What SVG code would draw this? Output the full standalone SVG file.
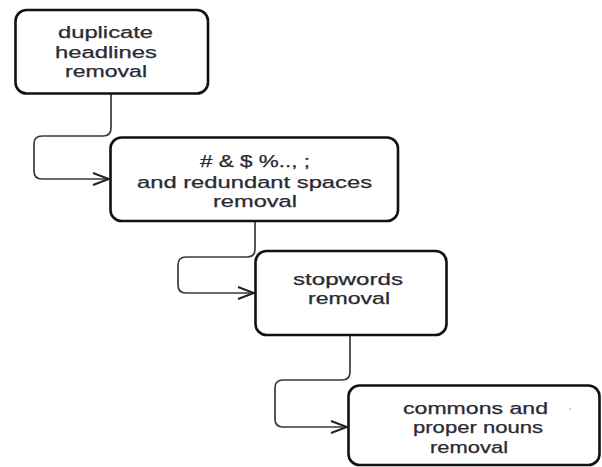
<svg xmlns="http://www.w3.org/2000/svg" width="602" height="467" viewBox="0 0 602 467">
<style>
.box{fill:#fff;stroke:#111;stroke-width:2.6}
.lbl{font-family:"Liberation Sans",Arial,sans-serif;font-size:16px;fill:#2a2a33;stroke:#2a2a33;stroke-width:0.25;text-anchor:middle}
.con{fill:none;stroke:#3a3a3a;stroke-width:1.7}
</style>
<defs>
<marker id="arr" markerUnits="userSpaceOnUse" markerWidth="20" markerHeight="16" viewBox="-18 -8 20 16" refX="0" refY="0" orient="auto">
<path d="M-16,-6 L0,0 L-16,6" fill="none" stroke="#222" stroke-width="2"/>
</marker>
</defs>
<rect width="602" height="467" fill="#fff"/>
<g id="connectors">
<path class="con" d="M111,94 V128 Q111,136 103,136 H42 Q34,136 34,144 V171 Q34,179 42,179 H109" marker-end="url(#arr)"/>
<path class="con" d="M255,222 V249 Q255,257 247,257 H186 Q178,257 178,265 V285 Q178,293 186,293 H254" marker-end="url(#arr)"/>
<path class="con" d="M350,336 V372 Q350,380 342,380 H283 Q275,380 275,388 V419 Q275,427 283,427 H347" marker-end="url(#arr)"/>
</g>
<g id="n1">
<rect class="box" x="15.5" y="10" width="192.5" height="83.5" rx="11"/>
<text class="lbl" x="105.5" y="38" textLength="95" lengthAdjust="spacingAndGlyphs">duplicate</text>
<text class="lbl" x="106" y="57.5" textLength="102" lengthAdjust="spacingAndGlyphs">headlines</text>
<text class="lbl" x="106" y="77" textLength="82" lengthAdjust="spacingAndGlyphs">removal</text>
</g>
<g id="n2">
<rect class="box" x="110.5" y="137.5" width="287.5" height="83.5" rx="11"/>
<text class="lbl" x="255" y="167" textLength="110" lengthAdjust="spacingAndGlyphs"># &amp; $ %.., ;</text>
<text class="lbl" x="254.5" y="188" textLength="235" lengthAdjust="spacingAndGlyphs">and redundant spaces</text>
<text class="lbl" x="255" y="207" textLength="84" lengthAdjust="spacingAndGlyphs">removal</text>
</g>
<g id="n3">
<rect class="box" x="255.5" y="251" width="191" height="84" rx="11"/>
<text class="lbl" x="348" y="285" textLength="110" lengthAdjust="spacingAndGlyphs">stopwords</text>
<text class="lbl" x="349" y="304" textLength="82" lengthAdjust="spacingAndGlyphs">removal</text>
</g>
<g id="n4">
<rect class="box" x="348.5" y="385.5" width="251" height="79.5" rx="11"/>
<text class="lbl" x="475.5" y="414" textLength="145" lengthAdjust="spacingAndGlyphs">commons and</text>
<text class="lbl" x="478" y="433" textLength="130" lengthAdjust="spacingAndGlyphs">proper nouns</text>
<text class="lbl" x="469" y="453" textLength="78" lengthAdjust="spacingAndGlyphs">removal</text>
<circle cx="570" cy="409" r="0.9" fill="#9cd"/>
</g>
</svg>
